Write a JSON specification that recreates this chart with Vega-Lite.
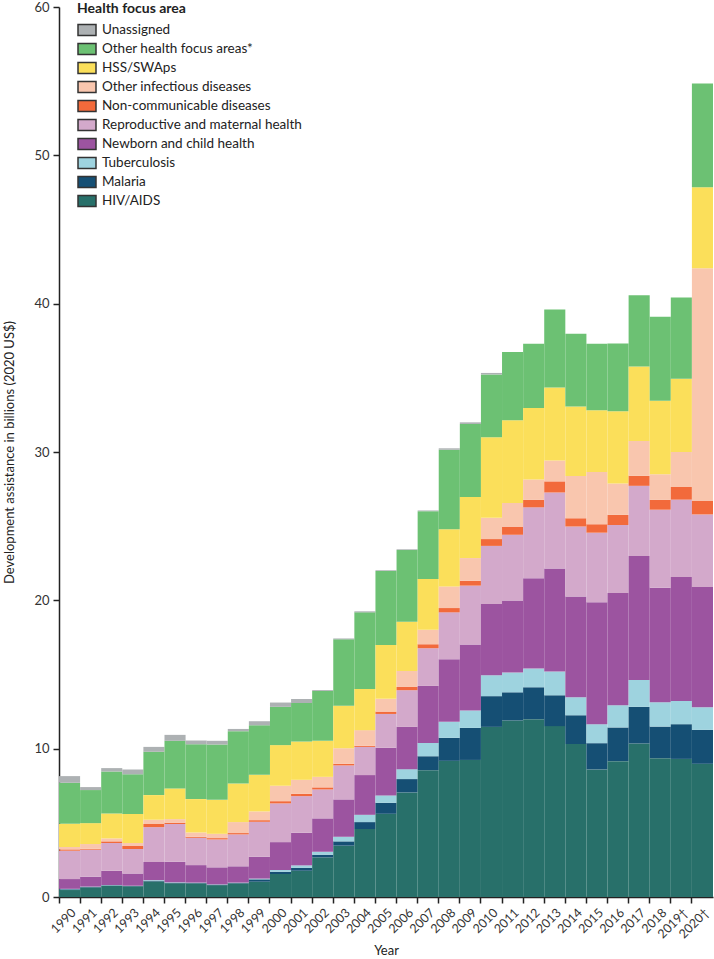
{
"$schema":"https://vega.github.io/schema/vega-lite/v6.json",
"width":654,"height":890,
"autosize":{"type":"none"},
"padding":{"left":59,"top":7,"right":1,"bottom":62},
"config":{"font":"Lato","view":{"stroke":null},
 "axis":{"domainColor":"#222","domainWidth":1.5,"tickColor":"#222","tickWidth":1.5,"tickSize":6,"labelColor":"#333","titleColor":"#222","titleFontWeight":"normal","grid":false}},
"data":{"values":[
{"year":"1990","area":"HIV/AIDS","value":0.47},{"year":"1990","area":"Malaria","value":0.05},{"year":"1990","area":"Tuberculosis","value":0.03},{"year":"1990","area":"Newborn and child health","value":0.66},{"year":"1990","area":"Reproductive and maternal health","value":1.91},{"year":"1990","area":"Non-communicable diseases","value":0.09},{"year":"1990","area":"Other infectious diseases","value":0.16},{"year":"1990","area":"HSS/SWAps","value":1.57},{"year":"1990","area":"Other health focus areas*","value":2.76},{"year":"1990","area":"Unassigned","value":0.45},
{"year":"1991","area":"HIV/AIDS","value":0.65},{"year":"1991","area":"Malaria","value":0.03},{"year":"1991","area":"Tuberculosis","value":0.02},{"year":"1991","area":"Newborn and child health","value":0.67},{"year":"1991","area":"Reproductive and maternal health","value":1.82},{"year":"1991","area":"Non-communicable diseases","value":0.06},{"year":"1991","area":"Other infectious diseases","value":0.32},{"year":"1991","area":"HSS/SWAps","value":1.41},{"year":"1991","area":"Other health focus areas*","value":2.23},{"year":"1991","area":"Unassigned","value":0.2},
{"year":"1992","area":"HIV/AIDS","value":0.76},{"year":"1992","area":"Malaria","value":0.03},{"year":"1992","area":"Tuberculosis","value":0.02},{"year":"1992","area":"Newborn and child health","value":0.96},{"year":"1992","area":"Reproductive and maternal health","value":1.87},{"year":"1992","area":"Non-communicable diseases","value":0.11},{"year":"1992","area":"Other infectious diseases","value":0.2},{"year":"1992","area":"HSS/SWAps","value":1.68},{"year":"1992","area":"Other health focus areas*","value":2.83},{"year":"1992","area":"Unassigned","value":0.23},
{"year":"1993","area":"HIV/AIDS","value":0.72},{"year":"1993","area":"Malaria","value":0.02},{"year":"1993","area":"Tuberculosis","value":0.02},{"year":"1993","area":"Newborn and child health","value":0.83},{"year":"1993","area":"Reproductive and maternal health","value":1.64},{"year":"1993","area":"Non-communicable diseases","value":0.2},{"year":"1993","area":"Other infectious diseases","value":0.21},{"year":"1993","area":"HSS/SWAps","value":1.95},{"year":"1993","area":"Other health focus areas*","value":2.69},{"year":"1993","area":"Unassigned","value":0.32},
{"year":"1994","area":"HIV/AIDS","value":1.05},{"year":"1994","area":"Malaria","value":0.05},{"year":"1994","area":"Tuberculosis","value":0.04},{"year":"1994","area":"Newborn and child health","value":1.22},{"year":"1994","area":"Reproductive and maternal health","value":2.35},{"year":"1994","area":"Non-communicable diseases","value":0.21},{"year":"1994","area":"Other infectious diseases","value":0.29},{"year":"1994","area":"HSS/SWAps","value":1.66},{"year":"1994","area":"Other health focus areas*","value":2.92},{"year":"1994","area":"Unassigned","value":0.33},
{"year":"1995","area":"HIV/AIDS","value":0.93},{"year":"1995","area":"Malaria","value":0.03},{"year":"1995","area":"Tuberculosis","value":0.03},{"year":"1995","area":"Newborn and child health","value":1.39},{"year":"1995","area":"Reproductive and maternal health","value":2.54},{"year":"1995","area":"Non-communicable diseases","value":0.09},{"year":"1995","area":"Other infectious diseases","value":0.24},{"year":"1995","area":"HSS/SWAps","value":2.07},{"year":"1995","area":"Other health focus areas*","value":3.21},{"year":"1995","area":"Unassigned","value":0.4},
{"year":"1996","area":"HIV/AIDS","value":0.92},{"year":"1996","area":"Malaria","value":0.03},{"year":"1996","area":"Tuberculosis","value":0.02},{"year":"1996","area":"Newborn and child health","value":1.18},{"year":"1996","area":"Reproductive and maternal health","value":1.84},{"year":"1996","area":"Non-communicable diseases","value":0.07},{"year":"1996","area":"Other infectious diseases","value":0.29},{"year":"1996","area":"HSS/SWAps","value":2.25},{"year":"1996","area":"Other health focus areas*","value":3.7},{"year":"1996","area":"Unassigned","value":0.25},
{"year":"1997","area":"HIV/AIDS","value":0.8},{"year":"1997","area":"Malaria","value":0.03},{"year":"1997","area":"Tuberculosis","value":0.02},{"year":"1997","area":"Newborn and child health","value":1.15},{"year":"1997","area":"Reproductive and maternal health","value":1.88},{"year":"1997","area":"Non-communicable diseases","value":0.09},{"year":"1997","area":"Other infectious diseases","value":0.29},{"year":"1997","area":"HSS/SWAps","value":2.29},{"year":"1997","area":"Other health focus areas*","value":3.73},{"year":"1997","area":"Unassigned","value":0.25},
{"year":"1998","area":"HIV/AIDS","value":0.92},{"year":"1998","area":"Malaria","value":0.03},{"year":"1998","area":"Tuberculosis","value":0.02},{"year":"1998","area":"Newborn and child health","value":1.1},{"year":"1998","area":"Reproductive and maternal health","value":2.15},{"year":"1998","area":"Non-communicable diseases","value":0.09},{"year":"1998","area":"Other infectious diseases","value":0.74},{"year":"1998","area":"HSS/SWAps","value":2.6},{"year":"1998","area":"Other health focus areas*","value":3.53},{"year":"1998","area":"Unassigned","value":0.15},
{"year":"1999","area":"HIV/AIDS","value":1.03},{"year":"1999","area":"Malaria","value":0.16},{"year":"1999","area":"Tuberculosis","value":0.05},{"year":"1999","area":"Newborn and child health","value":1.47},{"year":"1999","area":"Reproductive and maternal health","value":2.36},{"year":"1999","area":"Non-communicable diseases","value":0.11},{"year":"1999","area":"Other infectious diseases","value":0.59},{"year":"1999","area":"HSS/SWAps","value":2.47},{"year":"1999","area":"Other health focus areas*","value":3.34},{"year":"1999","area":"Unassigned","value":0.27},
{"year":"2000","area":"HIV/AIDS","value":1.55},{"year":"2000","area":"Malaria","value":0.15},{"year":"2000","area":"Tuberculosis","value":0.12},{"year":"2000","area":"Newborn and child health","value":1.88},{"year":"2000","area":"Reproductive and maternal health","value":2.61},{"year":"2000","area":"Non-communicable diseases","value":0.15},{"year":"2000","area":"Other infectious diseases","value":1.04},{"year":"2000","area":"HSS/SWAps","value":2.74},{"year":"2000","area":"Other health focus areas*","value":2.58},{"year":"2000","area":"Unassigned","value":0.29},
{"year":"2001","area":"HIV/AIDS","value":1.77},{"year":"2001","area":"Malaria","value":0.2},{"year":"2001","area":"Tuberculosis","value":0.16},{"year":"2001","area":"Newborn and child health","value":2.2},{"year":"2001","area":"Reproductive and maternal health","value":2.47},{"year":"2001","area":"Non-communicable diseases","value":0.16},{"year":"2001","area":"Other infectious diseases","value":0.94},{"year":"2001","area":"HSS/SWAps","value":2.58},{"year":"2001","area":"Other health focus areas*","value":2.6},{"year":"2001","area":"Unassigned","value":0.27},
{"year":"2002","area":"HIV/AIDS","value":2.67},{"year":"2002","area":"Malaria","value":0.18},{"year":"2002","area":"Tuberculosis","value":0.2},{"year":"2002","area":"Newborn and child health","value":2.25},{"year":"2002","area":"Reproductive and maternal health","value":1.95},{"year":"2002","area":"Non-communicable diseases","value":0.14},{"year":"2002","area":"Other infectious diseases","value":0.71},{"year":"2002","area":"HSS/SWAps","value":2.43},{"year":"2002","area":"Other health focus areas*","value":3.36},{"year":"2002","area":"Unassigned","value":0.06},
{"year":"2003","area":"HIV/AIDS","value":3.46},{"year":"2003","area":"Malaria","value":0.29},{"year":"2003","area":"Tuberculosis","value":0.31},{"year":"2003","area":"Newborn and child health","value":2.52},{"year":"2003","area":"Reproductive and maternal health","value":2.29},{"year":"2003","area":"Non-communicable diseases","value":0.11},{"year":"2003","area":"Other infectious diseases","value":1.05},{"year":"2003","area":"HSS/SWAps","value":2.86},{"year":"2003","area":"Other health focus areas*","value":4.48},{"year":"2003","area":"Unassigned","value":0.06},
{"year":"2004","area":"HIV/AIDS","value":4.58},{"year":"2004","area":"Malaria","value":0.47},{"year":"2004","area":"Tuberculosis","value":0.49},{"year":"2004","area":"Newborn and child health","value":2.68},{"year":"2004","area":"Reproductive and maternal health","value":1.9},{"year":"2004","area":"Non-communicable diseases","value":0.07},{"year":"2004","area":"Other infectious diseases","value":1.06},{"year":"2004","area":"HSS/SWAps","value":2.78},{"year":"2004","area":"Other health focus areas*","value":5.16},{"year":"2004","area":"Unassigned","value":0.07},
{"year":"2005","area":"HIV/AIDS","value":5.61},{"year":"2005","area":"Malaria","value":0.74},{"year":"2005","area":"Tuberculosis","value":0.5},{"year":"2005","area":"Newborn and child health","value":3.21},{"year":"2005","area":"Reproductive and maternal health","value":2.28},{"year":"2005","area":"Non-communicable diseases","value":0.16},{"year":"2005","area":"Other infectious diseases","value":0.86},{"year":"2005","area":"HSS/SWAps","value":3.63},{"year":"2005","area":"Other health focus areas*","value":4.99},{"year":"2005","area":"Unassigned","value":0.05},
{"year":"2006","area":"HIV/AIDS","value":7.05},{"year":"2006","area":"Malaria","value":0.9},{"year":"2006","area":"Tuberculosis","value":0.67},{"year":"2006","area":"Newborn and child health","value":2.85},{"year":"2006","area":"Reproductive and maternal health","value":2.47},{"year":"2006","area":"Non-communicable diseases","value":0.22},{"year":"2006","area":"Other infectious diseases","value":1.08},{"year":"2006","area":"HSS/SWAps","value":3.32},{"year":"2006","area":"Other health focus areas*","value":4.83},{"year":"2006","area":"Unassigned","value":0.05},
{"year":"2007","area":"HIV/AIDS","value":8.55},{"year":"2007","area":"Malaria","value":0.94},{"year":"2007","area":"Tuberculosis","value":0.9},{"year":"2007","area":"Newborn and child health","value":3.84},{"year":"2007","area":"Reproductive and maternal health","value":2.54},{"year":"2007","area":"Non-communicable diseases","value":0.27},{"year":"2007","area":"Other infectious diseases","value":0.98},{"year":"2007","area":"HSS/SWAps","value":3.42},{"year":"2007","area":"Other health focus areas*","value":4.57},{"year":"2007","area":"Unassigned","value":0.05},
{"year":"2008","area":"HIV/AIDS","value":9.18},{"year":"2008","area":"Malaria","value":1.55},{"year":"2008","area":"Tuberculosis","value":1.08},{"year":"2008","area":"Newborn and child health","value":4.22},{"year":"2008","area":"Reproductive and maternal health","value":3.16},{"year":"2008","area":"Non-communicable diseases","value":0.29},{"year":"2008","area":"Other infectious diseases","value":1.46},{"year":"2008","area":"HSS/SWAps","value":3.86},{"year":"2008","area":"Other health focus areas*","value":5.35},{"year":"2008","area":"Unassigned","value":0.1},
{"year":"2009","area":"HIV/AIDS","value":9.24},{"year":"2009","area":"Malaria","value":2.16},{"year":"2009","area":"Tuberculosis","value":1.17},{"year":"2009","area":"Newborn and child health","value":4.45},{"year":"2009","area":"Reproductive and maternal health","value":3.97},{"year":"2009","area":"Non-communicable diseases","value":0.33},{"year":"2009","area":"Other infectious diseases","value":1.53},{"year":"2009","area":"HSS/SWAps","value":4.11},{"year":"2009","area":"Other health focus areas*","value":4.93},{"year":"2009","area":"Unassigned","value":0.11},
{"year":"2010","area":"HIV/AIDS","value":11.47},{"year":"2010","area":"Malaria","value":2.07},{"year":"2010","area":"Tuberculosis","value":1.41},{"year":"2010","area":"Newborn and child health","value":4.81},{"year":"2010","area":"Reproductive and maternal health","value":3.91},{"year":"2010","area":"Non-communicable diseases","value":0.46},{"year":"2010","area":"Other infectious diseases","value":1.43},{"year":"2010","area":"HSS/SWAps","value":5.44},{"year":"2010","area":"Other health focus areas*","value":4.23},{"year":"2010","area":"Unassigned","value":0.1},
{"year":"2011","area":"HIV/AIDS","value":11.9},{"year":"2011","area":"Malaria","value":1.9},{"year":"2011","area":"Tuberculosis","value":1.33},{"year":"2011","area":"Newborn and child health","value":4.86},{"year":"2011","area":"Reproductive and maternal health","value":4.43},{"year":"2011","area":"Non-communicable diseases","value":0.55},{"year":"2011","area":"Other infectious diseases","value":1.6},{"year":"2011","area":"HSS/SWAps","value":5.57},{"year":"2011","area":"Other health focus areas*","value":4.6},{"year":"2011","area":"Unassigned","value":0},
{"year":"2012","area":"HIV/AIDS","value":11.99},{"year":"2012","area":"Malaria","value":2.15},{"year":"2012","area":"Tuberculosis","value":1.26},{"year":"2012","area":"Newborn and child health","value":6.09},{"year":"2012","area":"Reproductive and maternal health","value":4.78},{"year":"2012","area":"Non-communicable diseases","value":0.5},{"year":"2012","area":"Other infectious diseases","value":1.38},{"year":"2012","area":"HSS/SWAps","value":4.81},{"year":"2012","area":"Other health focus areas*","value":4.33},{"year":"2012","area":"Unassigned","value":0},
{"year":"2013","area":"HIV/AIDS","value":11.52},{"year":"2013","area":"Malaria","value":2.08},{"year":"2013","area":"Tuberculosis","value":1.6},{"year":"2013","area":"Newborn and child health","value":6.95},{"year":"2013","area":"Reproductive and maternal health","value":5.12},{"year":"2013","area":"Non-communicable diseases","value":0.75},{"year":"2013","area":"Other infectious diseases","value":1.41},{"year":"2013","area":"HSS/SWAps","value":4.92},{"year":"2013","area":"Other health focus areas*","value":5.25},{"year":"2013","area":"Unassigned","value":0},
{"year":"2014","area":"HIV/AIDS","value":10.32},{"year":"2014","area":"Malaria","value":1.94},{"year":"2014","area":"Tuberculosis","value":1.21},{"year":"2014","area":"Newborn and child health","value":6.79},{"year":"2014","area":"Reproductive and maternal health","value":4.71},{"year":"2014","area":"Non-communicable diseases","value":0.57},{"year":"2014","area":"Other infectious diseases","value":2.84},{"year":"2014","area":"HSS/SWAps","value":4.69},{"year":"2014","area":"Other health focus areas*","value":4.9},{"year":"2014","area":"Unassigned","value":0},
{"year":"2015","area":"HIV/AIDS","value":8.6},{"year":"2015","area":"Malaria","value":1.77},{"year":"2015","area":"Tuberculosis","value":1.28},{"year":"2015","area":"Newborn and child health","value":8.22},{"year":"2015","area":"Reproductive and maternal health","value":4.69},{"year":"2015","area":"Non-communicable diseases","value":0.57},{"year":"2015","area":"Other infectious diseases","value":3.53},{"year":"2015","area":"HSS/SWAps","value":4.16},{"year":"2015","area":"Other health focus areas*","value":4.47},{"year":"2015","area":"Unassigned","value":0},
{"year":"2016","area":"HIV/AIDS","value":9.16},{"year":"2016","area":"Malaria","value":2.27},{"year":"2016","area":"Tuberculosis","value":1.5},{"year":"2016","area":"Newborn and child health","value":7.56},{"year":"2016","area":"Reproductive and maternal health","value":4.59},{"year":"2016","area":"Non-communicable diseases","value":0.68},{"year":"2016","area":"Other infectious diseases","value":2.12},{"year":"2016","area":"HSS/SWAps","value":4.87},{"year":"2016","area":"Other health focus areas*","value":4.56},{"year":"2016","area":"Unassigned","value":0},
{"year":"2017","area":"HIV/AIDS","value":10.35},{"year":"2017","area":"Malaria","value":2.47},{"year":"2017","area":"Tuberculosis","value":1.81},{"year":"2017","area":"Newborn and child health","value":8.36},{"year":"2017","area":"Reproductive and maternal health","value":4.73},{"year":"2017","area":"Non-communicable diseases","value":0.68},{"year":"2017","area":"Other infectious diseases","value":2.35},{"year":"2017","area":"HSS/SWAps","value":5.01},{"year":"2017","area":"Other health focus areas*","value":4.8},{"year":"2017","area":"Unassigned","value":0},
{"year":"2018","area":"HIV/AIDS","value":9.36},{"year":"2018","area":"Malaria","value":2.13},{"year":"2018","area":"Tuberculosis","value":1.64},{"year":"2018","area":"Newborn and child health","value":7.72},{"year":"2018","area":"Reproductive and maternal health","value":5.26},{"year":"2018","area":"Non-communicable diseases","value":0.66},{"year":"2018","area":"Other infectious diseases","value":1.73},{"year":"2018","area":"HSS/SWAps","value":4.96},{"year":"2018","area":"Other health focus areas*","value":5.66},{"year":"2018","area":"Unassigned","value":0},
{"year":"2019†","area":"HIV/AIDS","value":9.31},{"year":"2019†","area":"Malaria","value":2.34},{"year":"2019†","area":"Tuberculosis","value":1.57},{"year":"2019†","area":"Newborn and child health","value":8.36},{"year":"2019†","area":"Reproductive and maternal health","value":5.21},{"year":"2019†","area":"Non-communicable diseases","value":0.85},{"year":"2019†","area":"Other infectious diseases","value":2.36},{"year":"2019†","area":"HSS/SWAps","value":4.94},{"year":"2019†","area":"Other health focus areas*","value":5.48},{"year":"2019†","area":"Unassigned","value":0},
{"year":"2020†","area":"HIV/AIDS","value":8.98},{"year":"2020†","area":"Malaria","value":2.29},{"year":"2020†","area":"Tuberculosis","value":1.52},{"year":"2020†","area":"Newborn and child health","value":8.11},{"year":"2020†","area":"Reproductive and maternal health","value":4.89},{"year":"2020†","area":"Non-communicable diseases","value":0.91},{"year":"2020†","area":"Other infectious diseases","value":15.68},{"year":"2020†","area":"HSS/SWAps","value":5.47},{"year":"2020†","area":"Other health focus areas*","value":6.99},{"year":"2020†","area":"Unassigned","value":0}
]},
"transform":[{"calculate":"indexof(['HIV/AIDS','Malaria','Tuberculosis','Newborn and child health','Reproductive and maternal health','Non-communicable diseases','Other infectious diseases','HSS/SWAps','Other health focus areas*','Unassigned'], datum.area)","as":"stackorder"}],
"mark":{"type":"bar"},
"encoding":{
 "x":{"field":"year","type":"ordinal","sort":null,"scale":{"paddingInner":0,"paddingOuter":0},
  "axis":{"bandPosition":0,"labelOffset":0,"labelAngle":-45,"labelFontSize":12.5,"labelPadding":3,"title":"Year","titleFontSize":13,"titlePadding":4}},
 "y":{"field":"value","type":"quantitative","stack":"zero","scale":{"domain":[0,60]},
  "axis":{"values":[0,10,20,30,40,50,60],"labelFontSize":13,"labelPadding":4,"title":"Development assistance in billions (2020 US$)","titleFontSize":13,"titlePadding":17}},
 "order":{"field":"stackorder","type":"quantitative","sort":"ascending"},
 "color":{"field":"area","type":"nominal",
  "scale":{"domain":["Unassigned","Other health focus areas*","HSS/SWAps","Other infectious diseases","Non-communicable diseases","Reproductive and maternal health","Newborn and child health","Tuberculosis","Malaria","HIV/AIDS"],
   "range":["#adb1b3","#6cc173","#fbdf5a","#f9c6ae","#f26a3b","#d3a9cb","#9c54a0","#9ed3df","#154f74","#28706a"]},
  "legend":{"orient":"none","legendX":18,"legendY":-5,"title":"Health focus area","titleFontSize":14,"titleFontWeight":"bold","titleColor":"#222","titlePadding":4,"labelFontSize":13.5,"labelLimit":400,"labelColor":"#222","labelOffset":5,"symbolType":"M-1,-0.6H1V0.6H-1Z","symbolSize":324,"symbolStrokeColor":"#333","symbolStrokeWidth":1.5,"symbolOpacity":1,"rowPadding":0}}
}
}
